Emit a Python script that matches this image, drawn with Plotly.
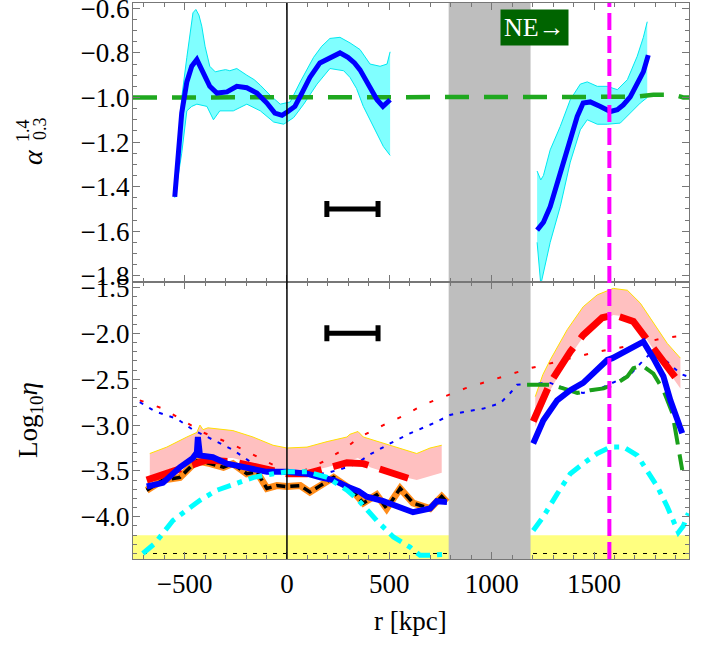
import plotly.graph_objects as go

# ---------------- data ----------------
# top panel: alpha_{0.3}^{1.4}
alpha_left_r = [-548, -533, -514, -489, -465, -440, -416, -377, -342, -293, -245, -196, -147, -98, -59, -24, 5, 39, 73, 112, 161, 210, 259, 298, 330, 357, 406, 440, 469, 504]
alpha_left = [-1.446, -1.25, -1.07, -0.93, -0.86, -0.83, -0.876, -0.95, -0.98, -0.975, -0.95, -0.956, -0.98, -1.025, -1.07, -1.08, -1.063, -1.04, -0.98, -0.91, -0.845, -0.82, -0.80, -0.82, -0.845, -0.876, -0.95, -1.01, -1.04, -1.01]
band_left_up_r = [-548, -530, -514, -489, -470, -459, -445, -430, -416, -400, -377, -350, -328, -300, -279, -245, -196, -160, -130, -82, -33, 16, 65, 100, 130, 170, 210, 259, 308, 357, 406, 455, 489, 504]
band_left_up = [-1.42, -1.2, -1.0, -0.82, -0.68, -0.62, -0.605, -0.63, -0.68, -0.77, -0.86, -0.885, -0.88, -0.875, -0.88, -0.87, -0.9, -0.92, -0.945, -0.99, -1.03, -1.02, -0.93, -0.87, -0.82, -0.77, -0.735, -0.73, -0.755, -0.785, -0.85, -0.86, -0.85, -0.795]
band_left_lo_r = [-548, -514, -489, -465, -440, -391, -359, -328, -262, -196, -130, -65, -16, 33, 82, 147, 210, 277, 308, 340, 373, 422, 471, 504]
band_left_lo = [-1.45, -1.25, -1.06, -1.04, -1.03, -1.04, -1.10, -1.06, -1.06, -1.03, -1.06, -1.11, -1.12, -1.09, -1.03, -0.94, -0.87, -0.88, -0.91, -0.96, -1.04, -1.13, -1.22, -1.26]

alpha_right_r = [1222, 1253, 1286, 1320, 1350, 1384, 1418, 1447, 1482, 1531, 1580, 1614, 1643, 1677, 1711, 1741, 1765]
alpha_right = [-1.595, -1.56, -1.49, -1.385, -1.28, -1.175, -1.085, -1.025, -1.02, -1.04, -1.063, -1.055, -1.033, -0.997, -0.935, -0.885, -0.81]
band_right_up_r = [1222, 1240, 1253, 1286, 1335, 1384, 1433, 1467, 1516, 1565, 1614, 1663, 1711, 1741, 1760]
band_right_up = [-1.33, -1.37, -1.35, -1.235, -1.13, -1.01, -0.94, -0.93, -0.95, -0.95, -0.965, -0.92, -0.815, -0.73, -0.66]
band_right_lo_r = [1222, 1240, 1286, 1335, 1384, 1433, 1467, 1516, 1565, 1628, 1677, 1726, 1760]
band_right_lo = [-1.65, -1.84, -1.65, -1.49, -1.29, -1.145, -1.1, -1.12, -1.12, -1.115, -1.07, -1.025, -1.0]

green_top_r = [-752, 1500, 1600, 1700, 1790, 1850, 1890, 1936, 1964]
green_top = [-1.0, -1.0, -1.0, -0.997, -0.988, -0.99, -0.988, -1.0, -1.0]

# bottom panel: log10 eta
pink_left_up_r = [-670, -587, -489, -440, -425, -410, -386, -264, -166, -68, 0, 98, 196, 293, 308, 347, 373, 471, 568, 634, 699, 756]
pink_left_up = [-3.31, -3.24, -3.13, -3.08, -3.0, -3.05, -3.03, -3.06, -3.13, -3.22, -3.25, -3.24, -3.18, -3.13, -3.10, -3.07, -3.13, -3.2, -3.27, -3.31, -3.25, -3.22]
pink_left_lo_r = [-670, -587, -489, -425, -264, -166, -68, 0, 98, 196, 293, 347, 406, 504, 634, 699, 756]
pink_left_lo = [-3.57, -3.49, -3.42, -3.36, -3.36, -3.42, -3.49, -3.53, -3.51, -3.46, -3.40, -3.36, -3.46, -3.53, -3.6, -3.56, -3.52]
pink_right_up_r = [1213, 1250, 1286, 1369, 1447, 1516, 1594, 1663, 1726, 1790, 1858, 1922]
pink_right_up = [-2.69, -2.45, -2.29, -1.96, -1.71, -1.58, -1.51, -1.53, -1.67, -1.89, -2.11, -2.27]
pink_right_lo_r = [1213, 1286, 1369, 1447, 1516, 1594, 1663, 1726, 1790, 1858, 1922]
pink_right_lo = [-3.02, -2.62, -2.29, -2.04, -1.89, -1.80, -1.82, -1.96, -2.18, -2.40, -2.60]

red_left_r = [-685, -587, -489, -391, -264, -130, 0, 98, 196, 293, 373, 471, 592]
red_left = [-3.60, -3.53, -3.46, -3.38, -3.40, -3.46, -3.53, -3.53, -3.46, -3.41, -3.42, -3.49, -3.58]
red_right_r = [1203, 1286, 1384, 1447, 1540, 1600, 1692, 1775, 1824, 1931]
red_right = [-2.96, -2.54, -2.2, -2.02, -1.83, -1.8, -1.87, -2.11, -2.25, -2.58]

blue_left_r = [-685, -606, -523, -460, -440, -435, -425, -362, -293, -196, -98, 0, 98, 163, 228, 293, 350, 390, 471, 616, 699, 732, 782]
blue_left = [-3.67, -3.63, -3.46, -3.36, -3.30, -3.13, -3.33, -3.35, -3.42, -3.46, -3.51, -3.51, -3.53, -3.57, -3.6, -3.67, -3.72, -3.78, -3.83, -3.95, -3.91, -3.83, -3.84]
blue_right_r = [1203, 1252, 1320, 1384, 1447, 1516, 1565, 1590, 1614, 1640, 1663, 1690, 1711, 1741, 1790, 1839, 1873, 1912, 1931]
blue_right = [-3.2, -2.95, -2.73, -2.62, -2.54, -2.4, -2.29, -2.27, -2.24, -2.22, -2.18, -2.15, -2.13, -2.09, -2.27, -2.47, -2.73, -2.95, -3.09]

black_left_r = [-685, -606, -523, -440, -375, -310, -264, -196, -147, -98, -49, 0, 65, 112, 163, 228, 293, 330, 373, 438, 487, 553, 616, 699, 756, 782]
black_left = [-3.71, -3.6, -3.57, -3.39, -3.42, -3.46, -3.42, -3.53, -3.51, -3.69, -3.66, -3.67, -3.66, -3.73, -3.66, -3.57, -3.67, -3.74, -3.85, -3.76, -3.91, -3.69, -3.85, -3.91, -3.78, -3.84]

cyan_left_r = [-704, -645, -557, -489, -425, -342, -260, -163, -65, 0, 98, 196, 293, 350, 438, 520, 601, 650, 699, 765]
cyan_left = [-4.40, -4.29, -4.04, -3.93, -3.82, -3.71, -3.64, -3.57, -3.53, -3.51, -3.51, -3.57, -3.71, -3.82, -4.04, -4.22, -4.33, -4.42, -4.42, -4.41]
cyan_right_r = [1203, 1252, 1320, 1384, 1447, 1516, 1580, 1645, 1711, 1760, 1809, 1858, 1912, 1936, 1961]
cyan_right = [-4.15, -4.0, -3.75, -3.53, -3.42, -3.31, -3.24, -3.24, -3.33, -3.49, -3.67, -3.89, -4.17, -4.1, -3.96]

green_bot_r = [1173, 1237, 1286, 1350, 1418, 1482, 1547, 1614, 1663, 1692, 1735, 1790, 1839, 1883, 1922, 1931]
green_bot = [-2.56, -2.56, -2.56, -2.6, -2.65, -2.62, -2.6, -2.54, -2.47, -2.38, -2.35, -2.44, -2.62, -2.87, -3.35, -3.49]

red_dot_r = [-719, -606, -508, -410, -300, -200, -100, 0, 80, 176, 274, 357, 471, 568, 665, 763, 870, 970, 1075, 1188, 1300, 1401, 1516, 1614, 1711, 1839, 1956]
red_dot = [-2.73, -2.82, -2.95, -3.08, -3.18, -3.28, -3.4, -3.5, -3.5, -3.4, -3.27, -3.13, -3.0, -2.9, -2.78, -2.69, -2.6, -2.53, -2.46, -2.38, -2.32, -2.26, -2.2, -2.16, -2.12, -2.05, -2.02]
blue_dot_r = [-719, -645, -538, -460, -362, -264, -166, -100, 0, 100, 200, 293, 340, 406, 504, 601, 716, 797, 879, 960, 1043, 1091, 1124, 1188, 1286, 1369, 1447, 1531, 1614, 1677, 1726, 1775, 1858, 1922, 1956]
blue_dot = [-2.75, -2.85, -2.93, -3.05, -3.16, -3.27, -3.42, -3.48, -3.52, -3.55, -3.52, -3.46, -3.42, -3.32, -3.2, -3.09, -2.98, -2.89, -2.85, -2.82, -2.76, -2.65, -2.56, -2.55, -2.54, -2.61, -2.65, -2.6, -2.51, -2.45, -2.33, -2.22, -2.31, -2.44, -2.47]

# reference markers
errbar_r = [320]
errbar_halfwidth = [125]
errbar_top_y = [-1.5]
errbar_bot_y = [-2.0]
gap_region = [790, 1190]
relic_r = 1575
yellow_band = [-4.2, -4.46]
dashed_level = -4.4

x_range = [-752, 1964]
top_range = [-1.828, -0.576]
bot_range = [-4.46, -1.44]
top_ticks = [-1.8, -1.6, -1.4, -1.2, -1.0, -0.8, -0.6]
bot_ticks = [-4.0, -3.5, -3.0, -2.5, -2.0, -1.5]

# ---------------- figure ----------------
FONT = "Liberation Serif"
TICKSIZE = 27
fig = go.Figure()

def band(xu, yu, xl, yl, fill, edge, xa, ya, edge_lower=None):
    fig.add_trace(go.Scatter(x=list(xu) + list(xl)[::-1], y=list(yu) + list(yl)[::-1],
                             fill="toself", fillcolor=fill, line=dict(width=0),
                             mode="lines", xaxis=xa, yaxis=ya, hoverinfo="skip"))
    fig.add_trace(go.Scatter(x=xu, y=yu, mode="lines", line=dict(color=edge, width=1),
                             xaxis=xa, yaxis=ya, hoverinfo="skip"))
    if edge_lower:
        fig.add_trace(go.Scatter(x=xl, y=yl, mode="lines", line=dict(color=edge_lower, width=1),
                                 xaxis=xa, yaxis=ya, hoverinfo="skip"))

def line(x, y, color, width, dash, xa, ya):
    fig.add_trace(go.Scatter(x=x, y=y, mode="lines",
                             line=dict(color=color, width=width, dash=dash),
                             xaxis=xa, yaxis=ya, hoverinfo="skip"))

# top panel (x, y)
band(band_left_up_r, band_left_up, band_left_lo_r, band_left_lo, "#80ffff", "#00e8f0", "x", "y", "#00e8f0")
band(band_right_up_r, band_right_up, band_right_lo_r, band_right_lo, "#80ffff", "#00e8f0", "x", "y", "#00e8f0")
line(green_top_r, green_top, "#1fa81f", 4.5, "24px,15px", "x", "y")
line(alpha_left_r, alpha_left, "#0000ff", 5, "solid", "x", "y")
line(alpha_right_r, alpha_right, "#0000ff", 5, "solid", "x", "y")

# bottom panel (x2, y2)
band(pink_left_up_r, pink_left_up, pink_left_lo_r, pink_left_lo, "#ffc0c0", "#ffe000", "x2", "y2")
band(pink_right_up_r, pink_right_up, pink_right_lo_r, pink_right_lo, "#ffc0c0", "#ffe000", "x2", "y2")
line(red_dot_r, red_dot, "#ff0000", 2, "4px,14px", "x2", "y2")
line(blue_dot_r, blue_dot, "#0000ff", 2, "4px,7px", "x2", "y2")
line(green_bot_r, green_bot, "#1aa01a", 4, "22px,10px", "x2", "y2")
line(black_left_r, black_left, "#ff8c1a", 7, "solid", "x2", "y2")
line(black_left_r, black_left, "#000000", 3.5, "9px,5px", "x2", "y2")
line(red_left_r, red_left, "#ff0000", 7, "36px,12px", "x2", "y2")
line(red_right_r, red_right, "#ff0000", 7, "36px,12px", "x2", "y2")
line(blue_left_r, blue_left, "#0000ff", 6, "solid", "x2", "y2")
line(blue_right_r, blue_right, "#0000ff", 6, "solid", "x2", "y2")
line(cyan_left_r, cyan_left, "#00ffff", 5, "14px,7px,5px,7px", "x2", "y2")
line(cyan_right_r, cyan_right, "#00ffff", 5, "14px,7px,5px,7px", "x2", "y2")

# error bars
for xa, ya, yv in (("x", "y", errbar_top_y), ("x2", "y2", errbar_bot_y)):
    fig.add_trace(go.Scatter(x=errbar_r, y=yv, mode="markers",
                             marker=dict(size=2, color="black"),
                             error_x=dict(type="data", array=errbar_halfwidth, color="black",
                                          thickness=5, width=8),
                             xaxis=xa, yaxis=ya, hoverinfo="skip"))

shapes = []
shapes.append(dict(type="rect", xref="x2 domain", yref="y2", x0=0, x1=1,
                   y0=yellow_band[0], y1=yellow_band[1], fillcolor="#ffff80",
                   line=dict(width=0), layer="below"))
shapes.append(dict(type="line", xref="x2 domain", yref="y2", x0=0, x1=1,
                   y0=dashed_level, y1=dashed_level, line=dict(color="black", width=1, dash="4px,6px"),
                   layer="below"))
for xr, yr in (("x", "y domain"), ("x2", "y2 domain")):
    shapes.append(dict(type="rect", xref=xr, yref=yr, x0=gap_region[0], x1=gap_region[1],
                       y0=0, y1=1, fillcolor="#bebebe", line=dict(width=0), layer="below"))
shapes.append(dict(type="line", xref="x2", yref="paper", x0=0, x1=0, y0=0, y1=1,
                   line=dict(color="black", width=1.5), layer="above"))
shapes.append(dict(type="line", xref="x2", yref="paper", x0=relic_r, x1=relic_r, y0=0, y1=1,
                   line=dict(color="#ff00ff", width=4, dash="17px,6px"), layer="above"))

FRAME = "#777777"
axis_common = dict(range=x_range, showline=True, linecolor=FRAME, linewidth=1.2,
                   mirror="ticks", ticks="inside", ticklen=7, tickcolor=FRAME,
                   showgrid=False, zeroline=False, tick0=0, dtick=500, automargin=False,
                   ticklabeloverflow="allow",
                   minor=dict(ticks="inside", ticklen=4, dtick=100, tickcolor=FRAME),
                   tickfont=dict(family=FONT, size=TICKSIZE, color="black"))

def yaxis_common(rng, ticks, minor_dtick):
    return dict(range=rng, showline=True, linecolor=FRAME, linewidth=1.2, mirror="ticks",
                ticks="inside", ticklen=7, tickcolor=FRAME, showgrid=False, zeroline=False,
                automargin=False, ticklabeloverflow="allow", tickvals=ticks,
                ticktext=[("\u2212%.1f" % abs(t)) for t in ticks],
                ticklabelstandoff=-3,
                minor=dict(ticks="inside", ticklen=4, dtick=minor_dtick, tick0=0, tickcolor=FRAME),
                tickfont=dict(family=FONT, size=TICKSIZE, color="black"))

split = (559 - 282) / 556.0
fig.update_layout(
    width=705, height=646,
    margin=dict(l=133, r=16, t=3, b=87, autoexpand=False),
    paper_bgcolor="white", plot_bgcolor="rgba(0,0,0,0)",
    showlegend=False,
    xaxis=dict(axis_common, domain=[0, 1], anchor="y", showticklabels=False),
    xaxis2=dict(axis_common, domain=[0, 1], anchor="y2", matches="x"),
    yaxis=dict(yaxis_common(top_range, top_ticks, 0.05), domain=[split, 1], anchor="x"),
    yaxis2=dict(yaxis_common(bot_range, bot_ticks, 0.1), domain=[0, split], anchor="x2"),
    shapes=shapes,
)

def px2paper(px, py):
    return (px - 133) / 556.0, (559 - py) / 556.0

ann = []
def add_ann(px, py, text, size, angle=-90, color="black", **kw):
    x, y = px2paper(px, py)
    ann.append(dict(x=x, y=y, xref="paper", yref="paper", text=text, showarrow=False,
                    textangle=angle, font=dict(family=FONT, size=size, color=color),
                    xanchor="center", yanchor="middle", **kw))

add_ann(32, 157, "<i>α</i>", 28)
add_ann(23, 131, "1.4", 18)
add_ann(40, 129, "0.3", 18)
add_ann(30, 420, "Log<sub>10</sub><i>η</i>", 27)
add_ann(410, 621, "r [kpc]", 27, angle=0)
add_ann(534, 27.5, "NE→", 26, angle=0, color="white", bgcolor="#006400", borderpad=3)
fig.update_layout(annotations=ann)

fig.write_html("out.html", config={"displayModeBar": False, "staticPlot": True})
with open("out.html", "r", encoding="utf-8") as f:
    html = f.read()
html = html.replace("<body>", '<body style="margin:0;padding:0;overflow:hidden;">', 1)
with open("out.html", "w", encoding="utf-8") as f:
    f.write(html)
